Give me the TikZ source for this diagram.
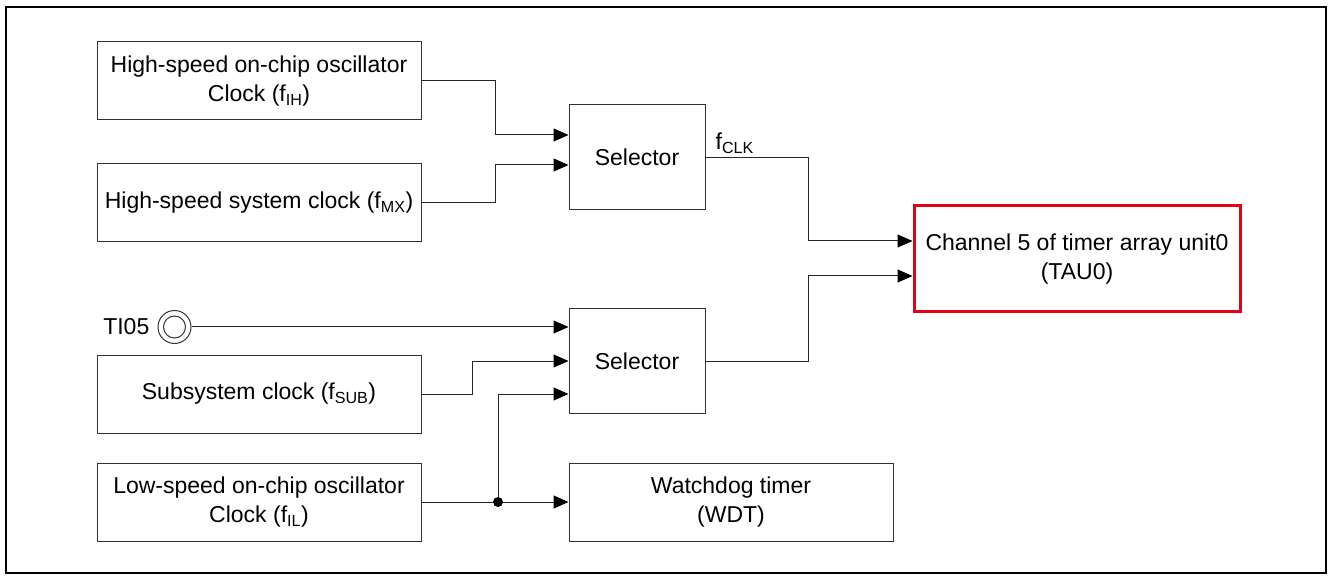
\documentclass[tikz,border=0pt]{standalone}
\usepackage{fontspec}
\setmainfont{Liberation Sans}
\definecolor{myFrameRed}{RGB}{230,0,18}
\usepackage{tikz}
\usetikzlibrary{arrows.meta, positioning, calc}

\begin{document}
\begin{tikzpicture}[x=1pt, y=-1pt,
    blk/.style={draw=black!80, line width=1pt, minimum width=324pt, minimum height=78pt,
      inner sep=0pt, align=center, font=\fontsize{23}{29}\selectfont},
    selbox/.style={blk, minimum width=136pt, minimum height=105pt},
    sig/.style={draw=black!85, line width=1pt},
    sigarr/.style={sig, -{Triangle[length=15pt, width=13pt, black]}}]
  \useasboundingbox (0,0) rectangle (1328,577);
  \draw[line width=2pt] (6,7) rectangle (1326,573);

  \node[blk] (hoco) at (259,81) {High-speed on-chip oscillator\\Clock (f\textsubscript{IH})};
  \node[blk] (hsclk) at (259,203) {High-speed system clock (f\textsubscript{MX})};
  \node[blk] (sub) at (259,394) {Subsystem clock (f\textsubscript{SUB})};
  \node[blk] (loco) at (259,502) {Low-speed on-chip oscillator\\Clock (f\textsubscript{IL})};
  \node[selbox] (selA) at (637,157.5) {Selector};
  \node[selbox, minimum height=104pt] (selB) at (637,361) {Selector};
  \node[blk] (wdt) at (731,502) {Watchdog timer\\(WDT)};
  \node[blk, draw=myFrameRed, line width=3pt, minimum width=326pt, minimum height=106pt]
    (tau) at (1077,259) {Channel 5 of timer array unit0\\(TAU0)};

  \node[circle, draw=black!80, line width=1pt, minimum size=33pt, inner sep=0pt] (ti05) at (174.5,327) {};
  \draw[black!80, line width=1pt] (ti05.center) circle (11pt);
  \node[left=8pt of ti05, inner sep=0pt, font=\fontsize{23}{29}\selectfont] (ti05lbl) {TI05};

  \draw[sigarr] (hoco.east) -- ++(74,0) |- ([yshift=22.5pt]selA.west);
  \draw[sigarr] (hsclk.east) -- ++(74,0) |- ([yshift=-7.5pt]selA.west);
  \draw[sigarr] (selA.east) -- ++(103,0) |- ([yshift=18pt]tau.west);
  \node[font=\fontsize{23}{29}\selectfont, inner sep=0pt, anchor=south west] (fclk)
    at ([xshift=10pt, yshift=4pt]selA.east) {f\textsubscript{CLK}};
  \draw[sigarr] (selB.east) -- ++(103,0) |- ([yshift=-17pt]tau.west);

  \draw[sigarr] (ti05.east) -- (ti05.east -| selB.west);
  \draw[sigarr] (sub.east) -- ++(51,0) |- (selB.west);
  \coordinate (jn) at (498,502);
  \draw[sigarr] (loco.east) -- (wdt.west);
  \draw[sigarr] (jn) |- ([yshift=-33pt]selB.west);
  \fill[black] (jn) circle (5pt);
\end{tikzpicture}
\end{document}
